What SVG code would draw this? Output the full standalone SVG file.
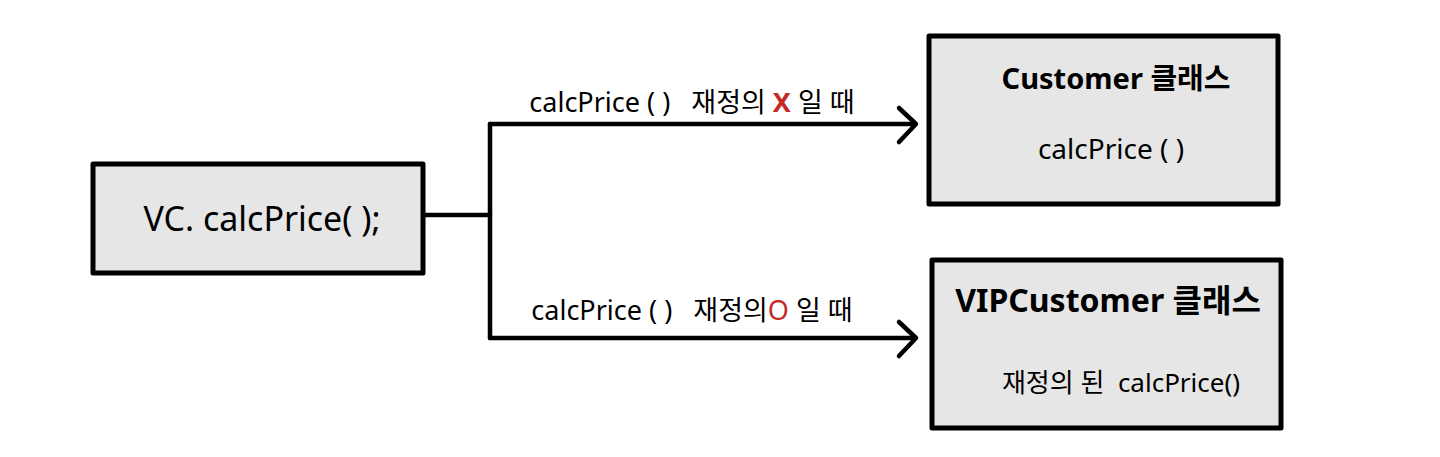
<svg xmlns="http://www.w3.org/2000/svg" width="1440" height="457" viewBox="0 0 1440 457">
<style>
.box{fill:#e6e6e6;stroke:#000;stroke-width:5;stroke-linejoin:round}
.t{font-family:"Noto Sans","Noto Sans CJK KR",sans-serif;fill:#000;text-anchor:middle;white-space:pre}
.ln{fill:none;stroke:#000;stroke-width:4.5;stroke-linecap:round;stroke-linejoin:round}
.red{fill:#c62828}
</style>
<rect width="1440" height="457" fill="#fff"/>
<g id="caller">
<rect class="box" x="93" y="164" width="330" height="109"/>
<text class="t" x="262" y="231" font-size="34" xml:space="preserve">VC. calcPrice( );</text>
</g>
<g id="customer">
<rect class="box" x="929" y="36" width="349" height="168"/>
<text class="t" x="1116" y="89" font-size="29" font-weight="bold">Customer 클래스</text>
<text class="t" x="1111" y="159" font-size="28" xml:space="preserve">calcPrice ( )</text>
</g>
<g id="vipcustomer">
<rect class="box" x="932" y="260" width="349" height="168"/>
<text class="t" x="1108" y="312" font-size="32" font-weight="bold">VIPCustomer 클래스</text>
<text class="t" x="1121" y="392" font-size="26" xml:space="preserve">재정의 된  calcPrice()</text>
</g>
<g id="connectors">
<path class="ln" d="M425 215 L490 215"/>
<path class="ln" d="M490 124 L490 338"/>
<path class="ln" d="M490 124 L915 124"/>
<path class="ln" d="M899 108 L916 124 L899 142"/>
<path class="ln" d="M490 338 L915 338"/>
<path class="ln" d="M899 322 L916 338 L899 356"/>
<text class="t" x="692" y="112" font-size="27" xml:space="preserve">calcPrice ( )   재정의 <tspan class="red" font-weight="bold">X</tspan> 일 때</text>
<text class="t" x="692" y="320" font-size="27" xml:space="preserve">calcPrice ( )   재정의<tspan class="red">O</tspan> 일 때</text>
</g>
</svg>
